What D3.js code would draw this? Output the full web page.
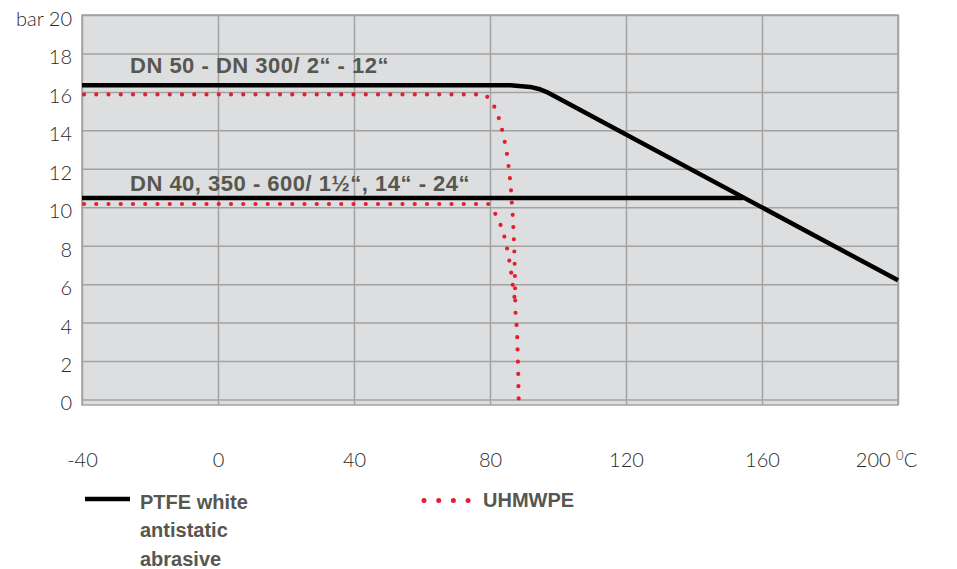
<!DOCTYPE html>
<html>
<head>
<meta charset="utf-8">
<script src="https://cdn.jsdelivr.net/npm/d3@7"></script>
<style>
    body { margin:0; background:white; }
    .tick text { font-family: Lato, "Open Sans", sans-serif; font-weight:300; font-size:20px; fill:#2a2a2a; }
    .title { font-family: "Liberation Sans", Arial, sans-serif; font-weight:bold; font-size:22px; fill:#57574f; letter-spacing:0.5px; }
    .legend { font-family: "Liberation Sans", Arial, sans-serif; font-weight:bold; font-size:20px; fill:#57574f; }
</style>
</head>
<body>
<svg></svg>
<script>
//tick values
var temps = [-40, 0, 40, 80, 120, 160, 200];
var pressures = [0, 2, 4, 6, 8, 10, 12, 14, 16, 18, 20];

//PTFE white antistatic abrasive  [temperature, bar]
var ptfeSmall = [[-40,16.34],[86,16.34],[91.8,16.26],[94.7,16.14],[96.7,15.99],[200,6.2]];
var ptfeLarge = [[-40,10.48],[154.5,10.48]];

//UHMWPE
var uhmwSmall = [[-40,15.87],[78.5,15.87],[80,15.6],[81.8,15.07],[82.9,14.47],[83.8,13.85],
                 [84.6,13.18],[85.2,12.55],[85.6,11.92],[86.0,11.28],[86.3,10.62],[86.5,9.98],
                 [86.8,9.34],[86.9,8.70],[87.1,8.06],[87.2,7.40],[87.3,6.76],[87.35,6.12],
                 [87.4,5.5],[87.5,4.53],[87.8,3.91],[88.0,3.28],[88.1,2.66],[88.2,2.04],
                 [88.3,1.41],[88.35,0.79],[88.4,0.17],[88.5,-0.2]];
var uhmwLarge = [[-40,10.17],[79.5,10.17],[80.7,9.93],[82.4,9.39],[83.7,8.82],[84.6,8.22],
                 [85.3,7.61],[85.9,7.0],[86.4,6.38],[86.8,5.78],[87.3,5.2]];

var seriesNames = ["PTFE white", "antistatic", "abrasive"];
var titles = ["DN 50 - DN 300/ 2\u201C - 12\u201C", "DN 40, 350 - 600/ 1\u00BD\u201C, 14\u201C - 24\u201C"];

var black = "#000000";
var red = "#e41e2b";

var makeScales = function(lengths)
{
    var xScale = d3.scaleLinear()
        .domain([-40,200])
        .range([0,lengths.graph.width]);

    var yScale = d3.scaleLinear()
        .domain([0,20])
        .range([lengths.graph.height-5.5,0]);

    return {x:xScale, y:yScale};
};

var drawGrid = function(target, lengths, scales)
{
    var g = d3.select(target).select(".graph");

    g.append("rect")
        .attr("x",0)
        .attr("y",0)
        .attr("width",lengths.graph.width)
        .attr("height",lengths.graph.height)
        .attr("fill","#dddee0")
        .attr("stroke","#a2a2a2")
        .attr("stroke-width",1.5);

    var hGrid = g.append("g")
        .call(d3.axisLeft(scales.y).tickValues(pressures).tickSize(-lengths.graph.width).tickFormat(""));
    var vGrid = g.append("g")
        .call(d3.axisTop(scales.x).tickValues(temps).tickSize(-lengths.graph.height).tickFormat(""));

    [hGrid, vGrid].forEach(function(grid)
    {
        grid.select(".domain").remove();
        grid.selectAll("line")
            .attr("stroke","#a2a2a2")
            .attr("stroke-width",1.5);
    });
};

var drawAxes = function(target, lengths, scales)
{
    var g = d3.select(target).select(".graph");

    var yAxis = g.append("g")
        .attr("id","yAxis")
        .call(d3.axisLeft(scales.y)
              .tickValues(pressures)
              .tickSize(0)
              .tickPadding(10)
              .tickFormat(function(d){ return d == 20 ? "bar 20" : String(d); }));
    yAxis.select(".domain").remove();
    yAxis.selectAll("text").attr("y",4);

    var xAxis = g.append("g")
        .attr("id","xAxis")
        .attr("transform","translate(0,"+lengths.graph.height+")")
        .call(d3.axisBottom(scales.x)
              .tickValues(temps)
              .tickSize(0)
              .tickPadding(48)
              .tickFormat(function(d){ return String(d); }));
    xAxis.select(".domain").remove();

    //unit after the last tick
    var last = xAxis.selectAll(".tick text")
        .filter(function(d){ return d == 200; });
    last.attr("dx",-12);
    last.append("tspan").text(" ");
    last.append("tspan")
        .text("0")
        .attr("font-size","13px")
        .attr("dy",-7);
    last.append("tspan")
        .text("C")
        .attr("dy",7);
};

var drawLines = function(target, scales)
{
    var g = d3.select(target).select(".graph");

    var line = d3.line()
        .x(function(d){ return scales.x(d[0]); })
        .y(function(d){ return scales.y(d[1]); });

    g.selectAll("path.ptfe")
        .data([ptfeLarge, ptfeSmall])
        .enter()
        .append("path")
        .classed("ptfe",true)
        .attr("d",line)
        .attr("fill","none")
        .attr("stroke",black)
        .attr("stroke-width",4.5)
        .attr("stroke-linejoin","round");

    g.selectAll("path.uhmw")
        .data([uhmwSmall, uhmwLarge])
        .enter()
        .append("path")
        .classed("uhmw",true)
        .attr("d",line)
        .attr("fill","none")
        .attr("stroke",red)
        .attr("stroke-width",4.2)
        .attr("stroke-linecap","round")
        .attr("stroke-dasharray","0,12.25")
        .attr("stroke-dashoffset",-2);
};

var createLabels = function(target, lengths)
{
    var svg = d3.select(target);

    svg.append("text")
        .classed("title",true)
        .attr("x",130)
        .attr("y",73)
        .text(titles[0]);

    svg.append("text")
        .classed("title",true)
        .attr("x",130)
        .attr("y",190.5)
        .text(titles[1]);

    //legend
    var legend = svg.append("g").classed("legendBox",true);

    legend.append("line")
        .attr("x1",85).attr("x2",130)
        .attr("y1",499).attr("y2",499)
        .attr("stroke",black)
        .attr("stroke-width",4.5);

    legend.selectAll("text.ptfeName")
        .data(seriesNames)
        .enter()
        .append("text")
        .classed("legend",true)
        .attr("x",140)
        .attr("y",function(d,i){ return 508.5 + i*28.5; })
        .text(function(d){ return d; });

    legend.append("line")
        .attr("x1",424).attr("x2",469)
        .attr("y1",500.5).attr("y2",500.5)
        .attr("stroke",red)
        .attr("stroke-width",5)
        .attr("stroke-linecap","round")
        .attr("stroke-dasharray","0,14.7");

    legend.append("text")
        .classed("legend",true)
        .attr("x",483)
        .attr("y",507)
        .text("UHMWPE");
};

var initChart = function(target)
{
    var screen = {width:957, height:569};
    var margins = {top:15, bottom:164, left:82, right:59};
    var graph =
    {
        width:screen.width-margins.left-margins.right,
        height:screen.height-margins.top-margins.bottom
    };
    var lengths = {screen:screen, margins:margins, graph:graph};

    d3.select(target)
        .attr("width",screen.width)
        .attr("height",screen.height);

    d3.select(target)
        .append("g")
        .classed("graph",true)
        .attr("transform","translate("+margins.left+","+margins.top+")");

    var scales = makeScales(lengths);
    drawGrid(target, lengths, scales);
    drawAxes(target, lengths, scales);
    drawLines(target, scales);
    createLabels(target, lengths);
};

initChart("svg");
</script>
</body>
</html>
